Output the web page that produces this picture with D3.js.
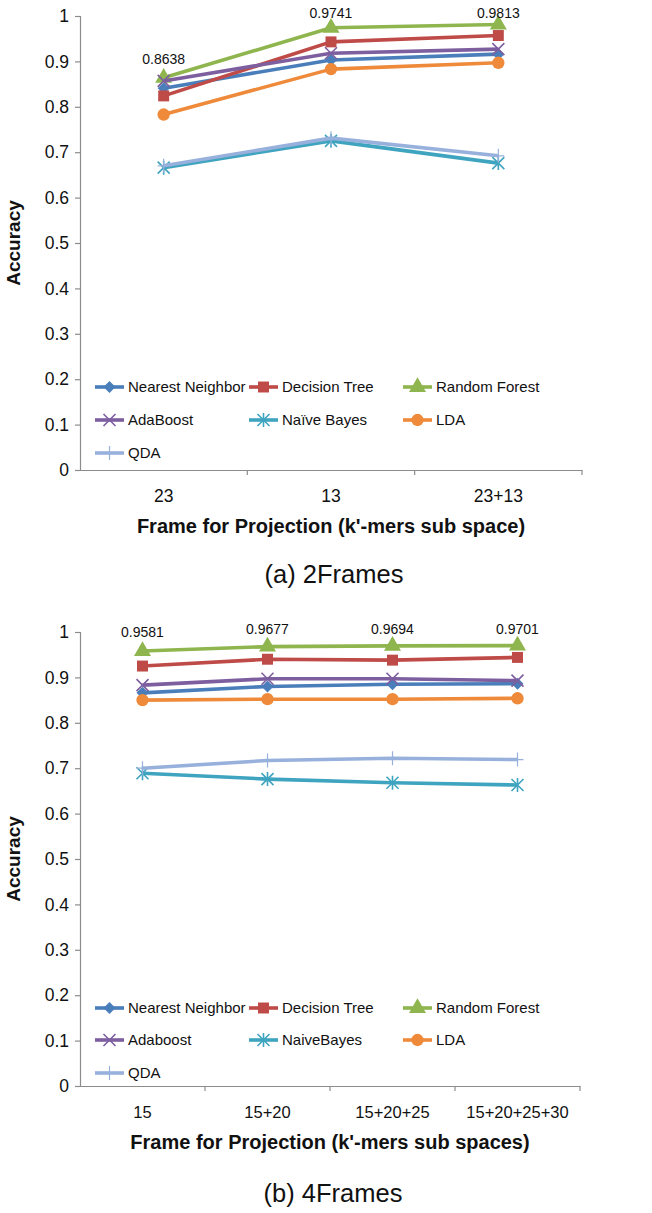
<!DOCTYPE html>
<html><head><meta charset="utf-8">
<script src="https://cdn.jsdelivr.net/npm/d3@7"></script>
<style>body{margin:0;background:#fff}svg{display:block;font-family:"Liberation Sans",Arial,sans-serif}</style>
</head><body><svg id="c" width="652" height="1213"></svg>
<script>
// ---------- data ----------
const seriesNamesA = ["Nearest Neighbor","Decision Tree","Random Forest","AdaBoost","Naïve Bayes","LDA","QDA"];
const seriesNamesB = ["Nearest Neighbor","Decision Tree","Random Forest","Adaboost","NaiveBayes","LDA","QDA"];
const categoriesA = ["23","13","23+13"];
const categoriesB = ["15","15+20","15+20+25","15+20+25+30"];
const nnA  = [0.841,0.903,0.916];
const dtA  = [0.824,0.943,0.957];
const rfA  = [0.8638,0.9741,0.9813];
const adaA = [0.857,0.918,0.927];
const nbA  = [0.666,0.725,0.676];
const ldaA = [0.783,0.883,0.897];
const qdaA = [0.670,0.731,0.692];
const nnB  = [0.866,0.880,0.885,0.886];
const dtB  = [0.925,0.940,0.938,0.944];
const rfB  = [0.9581,0.9677,0.9694,0.9701];
const adaB = [0.883,0.897,0.897,0.893];
const nbB  = [0.689,0.676,0.668,0.663];
const ldaB = [0.850,0.852,0.852,0.854];
const qdaB = [0.700,0.717,0.722,0.719];
const yTicks = [0,0.1,0.2,0.3,0.4,0.5,0.6,0.7,0.8,0.9,1];
const yTickLabels = ["0","0.1","0.2","0.3","0.4","0.5","0.6","0.7","0.8","0.9","1"];
const colors = ["#4A7EBB","#BE4B48","#8FB54E","#7D5FA0","#3FA4BF","#EE8A3A","#97B1DC"];
const markers = ["diamond","square","triangle","x","star","circle","plus"];

const svg = d3.select("#c");
svg.append("rect").attr("width",652).attr("height",1213).attr("fill","#fff");

function marker(g, type, color, x, y){
  const t = `translate(${x},${y})`;
  if(type==="diamond") g.append("path").attr("d",d3.symbol(d3.symbolSquare,72)()).attr("transform",t+" rotate(45)").attr("fill",color);
  else if(type==="square") g.append("path").attr("d",d3.symbol(d3.symbolSquare,120)()).attr("transform",t).attr("fill",color);
  else if(type==="triangle") g.append("path").attr("d",d3.symbol(d3.symbolTriangle,125)()).attr("transform",t).attr("fill",color);
  else if(type==="circle") g.append("path").attr("d",d3.symbol(d3.symbolCircle,120)()).attr("transform",t).attr("fill",color);
  else if(type==="x") g.append("path").attr("d","M-6,-6L6,6M-6,6L6,-6").attr("transform",t).attr("stroke",color).attr("stroke-width",1.6).attr("fill","none");
  else if(type==="star") g.append("path").attr("d","M-6,-6L6,6M-6,6L6,-6M0,-7L0,7").attr("transform",t).attr("stroke",color).attr("stroke-width",1.6).attr("fill","none");
  else if(type==="plus") g.append("path").attr("d","M0,-7L0,7M-6,0L6,0").attr("transform",t).attr("stroke",color).attr("stroke-width",1.2).attr("fill","none");
}

function chart(cfg){
  const {top, bottom, left, right, cats, series, names, labelIdx, xTitle, sub, subY, rowY, tickFont} = cfg;
  const g = svg.append("g");
  const x = d3.scaleBand().domain(cats).range([left,right]).padding(0);
  const y = d3.scaleLinear().domain([0,1]).range([bottom,top]);
  const cx = c => x(c)+x.bandwidth()/2;
  // y axis
  const ya = g.append("g").attr("transform",`translate(${left},0)`)
    .call(d3.axisLeft(y).tickValues(yTicks).tickFormat((d,i)=>yTickLabels[i]).tickSize(5).tickPadding(6));
  ya.select(".domain").attr("stroke","#8c8c8c").attr("stroke-width",1.2);
  ya.selectAll(".tick line").attr("stroke","#8c8c8c").attr("stroke-width",1.2);
  ya.selectAll("text").attr("font-size",17.5).attr("fill","#111").attr("font-family","Liberation Sans, Arial");
  // x axis
  const xa = g.append("g").attr("transform",`translate(0,${bottom})`)
    .call(d3.axisBottom(x).tickSize(0).tickPadding(20));
  xa.select(".domain").attr("stroke","#8c8c8c").attr("stroke-width",1.2);
  xa.selectAll("text").attr("font-size",tickFont).attr("fill","#111").attr("font-family","Liberation Sans, Arial");
  const bounds = cats.map(c=>x(c)).slice(1).concat([right]);
  g.selectAll(".xb").data(bounds).enter().append("line")
    .attr("x1",d=>d).attr("x2",d=>d).attr("y1",bottom).attr("y2",bottom+5)
    .attr("stroke","#8c8c8c").attr("stroke-width",1.2);
  // lines
  const line = d3.line().x((d,i)=>cx(cats[i])).y(d=>y(d));
  series.forEach((s,k)=>{
    const sg = g.append("g");
    sg.append("path").attr("d",line(s)).attr("fill","none").attr("stroke",colors[k]).attr("stroke-width",3.6).attr("stroke-linejoin","round");
    s.forEach((v,i)=>marker(sg,markers[k],colors[k],cx(cats[i]),y(v)));
  });
  // data labels on random forest (kept inside the chart area)
  labelIdx.forEach(i=>{
    g.append("text").attr("x",cx(cats[i])).attr("y",Math.max(y(series[2][i])-14, top+2))
      .attr("text-anchor","middle").attr("font-size",14).attr("fill","#111").text(series[2][i].toFixed(4));
  });
  // legend
  const colX = [95,249,403];
  names.forEach((n,k)=>{
    const lx = colX[k%3], ly = rowY[Math.floor(k/3)];
    const lg = g.append("g");
    lg.append("line").attr("x1",lx).attr("x2",lx+29).attr("y1",ly).attr("y2",ly).attr("stroke",colors[k]).attr("stroke-width",3.6);
    marker(lg,markers[k],colors[k],lx+14.5,ly);
    lg.append("text").attr("x",lx+33).attr("y",ly).attr("dy","0.36em").attr("font-size",15).attr("fill","#111").text(n);
  });
  // titles
  g.append("text").attr("transform",`translate(20,${(top+bottom)/2}) rotate(-90)`).attr("text-anchor","middle")
    .attr("font-size",19).attr("font-weight","bold").attr("fill","#111").text("Accuracy");
  g.append("text").attr("x",(left+right)/2).attr("y",bottom+63).attr("text-anchor","middle")
    .attr("font-size",20).attr("font-weight","bold").attr("fill","#111").text(xTitle);
  g.append("text").attr("x",(left+right)/2+3).attr("y",subY).attr("text-anchor","middle")
    .attr("font-size",25.5).attr("fill","#111").text(sub);
}

chart({top:16,bottom:470,left:80,right:582,cats:categoriesA,series:[nnA,dtA,rfA,adaA,nbA,ldaA,qdaA],
  names:seriesNamesA,labelIdx:[0,1,2],xTitle:"Frame for Projection (k'-mers sub space)",sub:"(a) 2Frames",subY:583,
  rowY:[387,420,453],tickFont:17.5});
chart({top:632,bottom:1086,left:80,right:580,cats:categoriesB,series:[nnB,dtB,rfB,adaB,nbB,ldaB,qdaB],
  names:seriesNamesB,labelIdx:[0,1,2,3],xTitle:"Frame for Projection (k'-mers sub spaces)",sub:"(b) 4Frames",subY:1202,
  rowY:[1008,1040,1073],tickFont:16.5});
</script></body></html>
